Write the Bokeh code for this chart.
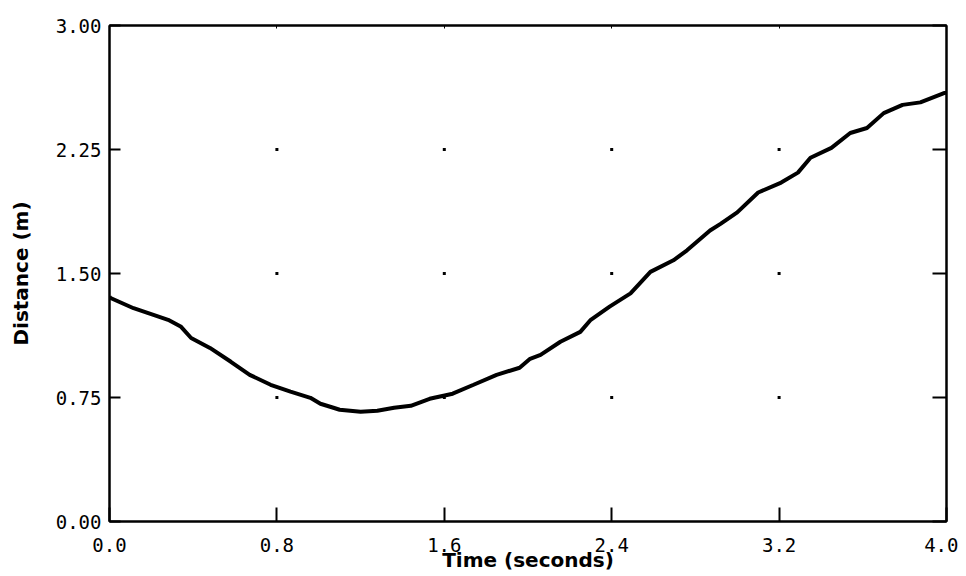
from bokeh.plotting import figure
from bokeh.embed import file_html
from bokeh.resources import INLINE
from bokeh.models import Range1d, FixedTicker, NumeralTickFormatter, LinearAxis, ColumnDataSource, CustomJSTickFormatter

# ---- data ----
time_s = [0.0, 0.005, 0.115, 0.21, 0.28, 0.34, 0.39, 0.48, 0.58, 0.67, 0.77, 0.865, 0.96,
          1.008, 1.07, 1.10, 1.20, 1.28, 1.36, 1.44, 1.53, 1.64, 1.74, 1.85, 1.96, 2.01,
          2.06, 2.155, 2.25, 2.30, 2.39, 2.49, 2.585, 2.695, 2.76, 2.87, 2.92, 3.00, 3.10,
          3.21, 3.29, 3.35, 3.45, 3.54, 3.62, 3.70, 3.79, 3.875, 3.985, 4.0]
distance_m = [1.36, 1.352, 1.29, 1.25, 1.22, 1.18, 1.11, 1.05, 0.966, 0.887, 0.827, 0.785, 0.748,
              0.712, 0.688, 0.676, 0.664, 0.670, 0.688, 0.700, 0.742, 0.773, 0.827, 0.887, 0.93, 0.984,
              1.008, 1.087, 1.147, 1.22, 1.30, 1.38, 1.51, 1.58, 1.64, 1.76, 1.80, 1.87, 1.99,
              2.05, 2.11, 2.20, 2.26, 2.35, 2.38, 2.47, 2.52, 2.535, 2.59, 2.594]
x_ticks = [0.0, 0.8, 1.6, 2.4, 3.2, 4.0]
y_ticks = [0.0, 0.75, 1.5, 2.25, 3.0]

MONO = "DejaVu Sans Mono"

p = figure(width=958, height=574, output_backend="svg", toolbar_location=None,
           x_range=Range1d(0, 4), y_range=Range1d(0, 3),
           min_border_left=109, min_border_right=12, min_border_top=25, min_border_bottom=52)
p.xgrid.visible = False
p.ygrid.visible = False
p.outline_line_color = "black"
p.outline_line_width = 2
p.background_fill_color = "white"
p.border_fill_color = "white"

# x axis
xa = p.xaxis[0]
xa.ticker = FixedTicker(ticks=x_ticks)
xa.formatter = NumeralTickFormatter(format="0.0")
xa.major_tick_in = 14
xa.major_tick_out = 0
xa.minor_tick_line_color = None
xa.axis_line_width = 2
xa.major_tick_line_width = 2
xa.major_label_text_font = MONO
xa.major_label_text_font_size = "19px"
xa.major_label_text_color = "black"
xa.major_label_standoff = 16
xa.axis_label = "Time (seconds)"
xa.axis_label_text_font = "DejaVu Sans"
xa.axis_label_text_font_style = "bold"
xa.axis_label_text_font_size = "20px"
xa.axis_label_text_color = "black"
xa.axis_label_standoff = -7

# y axis
ya = p.yaxis[0]
ya.ticker = FixedTicker(ticks=y_ticks)
ya.formatter = NumeralTickFormatter(format="0.00")
ya.major_tick_in = 11
ya.major_tick_out = 0
ya.minor_tick_line_color = None
ya.axis_line_width = 2
ya.major_tick_line_width = 2
ya.major_label_text_font = MONO
ya.major_label_text_font_size = "19px"
ya.major_label_text_color = "black"
ya.major_label_standoff = 8
ya.axis_label = "Distance (m)"
ya.axis_label_text_font = "DejaVu Sans"
ya.axis_label_text_font_style = "bold"
ya.axis_label_text_font_size = "20px"
ya.axis_label_text_color = "black"
ya.axis_label_standoff = 20

blank = CustomJSTickFormatter(code="return '';")
# right axis (ticks only)
ra = LinearAxis(ticker=FixedTicker(ticks=y_ticks), formatter=blank, major_tick_in=14, major_tick_out=0,
                minor_tick_line_color=None, axis_line_width=2, major_tick_line_width=2)
p.add_layout(ra, "right")
# top axis (tiny ticks)
ta = LinearAxis(ticker=FixedTicker(ticks=x_ticks), formatter=blank, major_tick_in=3, major_tick_out=0,
                minor_tick_line_color=None, axis_line_width=2, major_tick_line_width=1)
p.add_layout(ta, "above")

# grid dots at interior tick intersections
gx, gy = [], []
for xv in x_ticks[1:-1]:
    for yv in y_ticks[1:-1]:
        gx.append(xv)
        gy.append(yv)
p.scatter(gx, gy, marker="square", size=3, color="black", line_color=None)

src = ColumnDataSource(dict(t=time_s, d=distance_m))
p.line("t", "d", source=src, line_color="black", line_width=4)

open("out.html", "w").write(file_html(p, INLINE))
